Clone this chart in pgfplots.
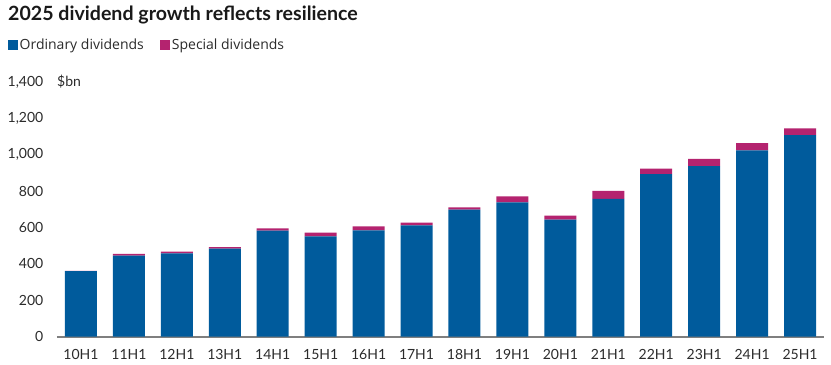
\documentclass[border=0pt]{standalone}
\usepackage{pgfplots}
\pgfplotsset{compat=1.18}
\usepackage{fontspec}
\setmainfont{Lato}
\newfontfamily\osans{Open Sans}
\definecolor{ordblue}{HTML}{005B9C}
\definecolor{specpink}{HTML}{B4236F}
\definecolor{axgray}{HTML}{7F7F7F}
\definecolor{txt}{HTML}{2B2B2B}
\begin{document}
\begin{tikzpicture}
\useasboundingbox (-57bp,-28.3bp) rectangle (774bp,336.7bp);
\begin{axis}[
  at={(0,0)}, anchor=south west,
  scale only axis, width=767bp, height=254.7bp,
  ybar stacked, bar width=32bp,
  xmin=-0.5, xmax=15.5, ymin=0, ymax=1400,
  xtick={0,...,15},
  xticklabels={10H1,11H1,12H1,13H1,14H1,15H1,16H1,17H1,18H1,19H1,20H1,21H1,22H1,23H1,24H1,25H1},
  ytick={0,200,...,1400},
  /pgf/number format/assume math mode=true,
  /pgf/number format/1000 sep={,},
  axis x line*=bottom, axis y line*=left,
  x axis line style={draw=axgray, line width=2bp, -},
  y axis line style={draw=none},
  major tick length=0pt,
  tick label style={font=\fontsize{14bp}{16bp}\selectfont, text=txt},
  xticklabel style={anchor=base, inner sep=0pt, yshift=-22.6bp},
  yticklabel style={anchor=east, inner sep=0pt, xshift=-13.5bp},
  legend style={draw=none, fill=none, inner sep=0pt, legend columns=-1,
    at={(axis description cs:-0.0639,1.1453)}, anchor=west,
    font=\osans\fontsize{14bp}{16bp}\selectfont, text=txt,
    nodes={inner sep=1.5bp},
    /tikz/every even column/.append style={column sep=15bp}},
  legend image code/.code={\fill[#1] (0bp,-5bp) rectangle (10bp,5bp);},
  clip=false,
]
\addplot[fill=ordblue, draw=none] coordinates {
 (0,360) (1,446) (2,458) (3,484) (4,583) (5,551) (6,584) (7,612)
 (8,698) (9,739) (10,643) (11,757) (12,893) (13,937) (14,1024) (15,1108)};
\addlegendentry{Ordinary dividends}
\addplot[fill=specpink, draw=none] coordinates {
 (0,2) (1,9) (2,10) (3,9) (4,12) (5,21) (6,22) (7,15)
 (8,13) (9,33) (10,22) (11,44) (12,31) (13,41) (14,40) (15,37)};
\addlegendentry{Special dividends}
\node[anchor=west, inner sep=0pt, font=\fontsize{14bp}{16bp}\selectfont, text=txt] at (rel axis cs:0,1) {\$bn};
\end{axis}
\node[anchor=base west, inner sep=0pt, font=\fontsize{19.6bp}{22bp}\selectfont\bfseries, text=black!90] at (-49bp,316bp) {2025 dividend growth reflects resilience};
\end{tikzpicture}
\end{document}
